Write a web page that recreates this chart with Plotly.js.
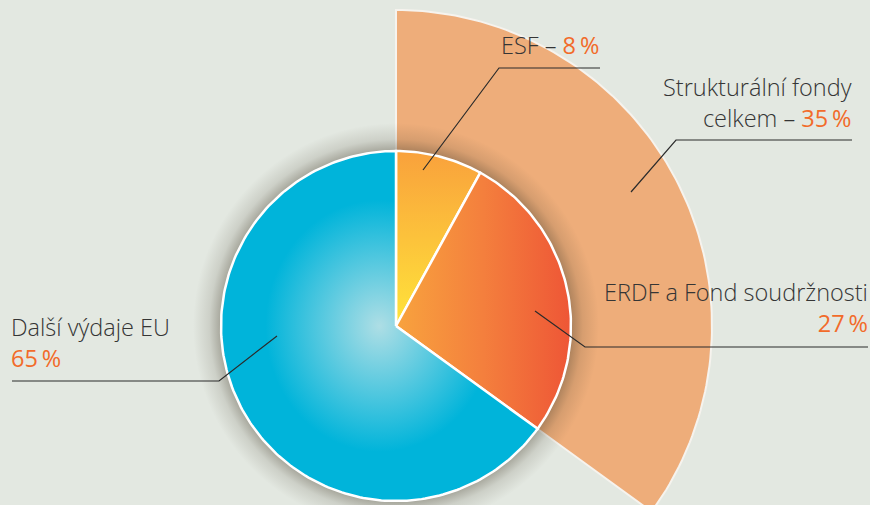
<!DOCTYPE html>
<html>
<head>
<meta charset="utf-8">
<script src="https://cdn.plot.ly/plotly-3.0.1.min.js"></script>
<style>
    html, body { margin: 0; padding: 0; background: #e3e8e1; }
    #chart { width: 870px; height: 505px; }
</style>
</head>
<body>
<div id="chart"></div>
<script>
    // shares of the EU budget, in percent
    const categories = ["ESF", "ERDF a Fond soudržnosti", "Další výdaje EU"];
    const shares = [8, 27, 65];
    const groupName = "Strukturální fondy celkem";
    const groupShare = 35;

    // geometry in pixels (axes are mapped 1:1 onto the page)
    const CX = 396, CY = 326, R_PIE = 175, R_GROUP = 316;
    const TEXT = "#353535";
    const ORANGE = "#f26b2a";
    const FONT = "Open Sans, Lato, sans-serif";

    function wedge(fromPct, toPct, r) {
        const xs = [CX], ys = [CY];
        const steps = Math.max(10, Math.ceil((toPct - fromPct) * 3));
        for (let i = 0; i <= steps; i++) {
            const a = (fromPct + (toPct - fromPct) * i / steps) / 100 * 2 * Math.PI;
            xs.push(CX + r * Math.sin(a));
            ys.push(CY - r * Math.cos(a));
        }
        xs.push(CX);
        ys.push(CY);
        return { x: xs, y: ys };
    }

    const traces = [];

    // outer wedge for the structural funds total
    const group = wedge(0, groupShare, R_GROUP);
    traces.push({
        type: "scatter", mode: "lines", x: group.x, y: group.y,
        fill: "toself", fillcolor: "#eead7a",
        line: { color: "#f6f3ee", width: 2 }, hoverinfo: "skip"
    });

    // soft shadow under the pie
    const halo = wedge(0, 100, R_PIE + 28);
    traces.push({
        type: "scatter", mode: "lines", x: halo.x, y: halo.y,
        fill: "toself", line: { width: 0 },
        fillgradient: {
            type: "radial",
            colorscale: [
                [0, "rgba(70,62,45,0.42)"], [0.86, "rgba(70,62,45,0.4)"],
                [0.92, "rgba(70,62,45,0.14)"], [1, "rgba(70,62,45,0)"]
            ]
        },
        hoverinfo: "skip"
    });

    const sliceFills = [
        { type: "vertical", start: CY, stop: CY - R_PIE, colorscale: [[0, "#ffe43a"], [1, "#f9a13c"]] },
        { type: "horizontal", start: CX, stop: CX + R_PIE, colorscale: [[0, "#f8a33e"], [0.5, "#f47f3d"], [1, "#ee5636"]] },
        { type: "radial", colorscale: [[0, "#aedee5"], [0.72, "#00b4da"], [1, "#00b4da"]] }
    ];

    let cum = 0;
    categories.forEach((name, i) => {
        const w = wedge(cum, cum + shares[i], R_PIE);
        cum += shares[i];
        traces.push({
            type: "scatter", mode: "lines", x: w.x, y: w.y, name: name,
            fill: "toself", fillgradient: sliceFills[i],
            line: { color: "#ffffff", width: 2.5 }, hoverinfo: "name"
        });
    });

    const leaders = [
        "M 600 68 L 499 68 L 423 170",
        "M 852 140 L 676 140 L 631 192",
        "M 868 347 L 585 347 L 535 311",
        "M 12 381 L 219 381 L 277 336"
    ];

    const pct = (v) => `<span style="color:${ORANGE};font-weight:400">${v}\u2009%</span>`;

    const annotations = [
        { x: 601, y: 63, xanchor: "right", yanchor: "bottom", align: "right",
          text: `${categories[0]} – ${pct(shares[0])}` },
        { x: 854, y: 136, xanchor: "right", yanchor: "bottom", align: "right",
          text: `Strukturální fondy<br>celkem – ${pct(groupShare)}` },
        { x: 870, y: 341, xanchor: "right", yanchor: "bottom", align: "right",
          text: `${categories[1]}<br>${pct(shares[1])}` },
        { x: 9, y: 376, xanchor: "left", yanchor: "bottom", align: "left",
          text: `${categories[2]}<br>${pct(shares[2])}` }
    ].map((a) => Object.assign(a, {
        xref: "x", yref: "y", showarrow: false,
        font: { family: FONT, size: 23.5, color: TEXT, weight: 300 }
    }));

    const layout = {
        width: 870, height: 505,
        margin: { l: 0, r: 0, t: 0, b: 0 },
        paper_bgcolor: "#e3e8e1", plot_bgcolor: "#e3e8e1",
        showlegend: false,
        xaxis: { range: [0, 870], visible: false, fixedrange: true },
        yaxis: { range: [505, 0], visible: false, fixedrange: true },
        shapes: leaders.map((path) => ({
            type: "path", path: path, xref: "x", yref: "y",
            line: { color: "#2b2b2b", width: 1.2 }
        })),
        annotations: annotations
    };

    Plotly.newPlot("chart", traces, layout, { displayModeBar: false, staticPlot: true });
</script>
</body>
</html>
